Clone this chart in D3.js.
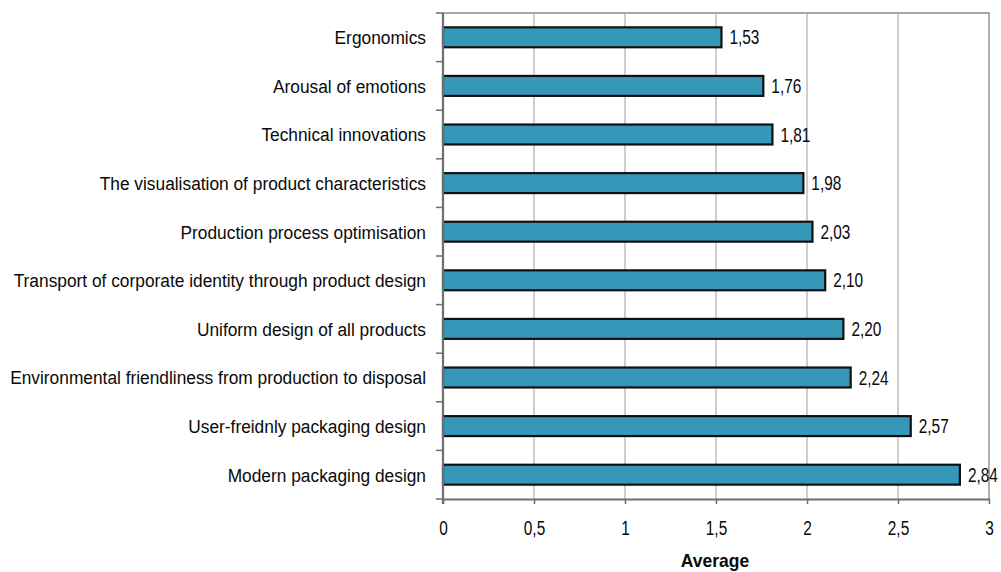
<!DOCTYPE html>
<html>
<head>
<meta charset="utf-8">
<script src="https://cdn.jsdelivr.net/npm/d3@7"></script>
<style>
  html, body { margin: 0; padding: 0; background: #fff; }
  svg { display: block; }
  text { font-family: "Liberation Sans", Arial, sans-serif; fill: #0a0a0a; }
</style>
</head>
<body>
<script>
// Importance of design aspects (average rating)
const categories = [
  "Ergonomics",
  "Arousal of emotions",
  "Technical innovations",
  "The visualisation of product characteristics",
  "Production process optimisation",
  "Transport of corporate identity through product design",
  "Uniform design of all products",
  "Environmental friendliness from production to disposal",
  "User-freidnly packaging design",
  "Modern packaging design"
];
const values = [1.53, 1.76, 1.81, 1.98, 2.03, 2.10, 2.20, 2.24, 2.57, 2.84];
const xTicks = [0, 0.5, 1, 1.5, 2, 2.5, 3];
const xTitle = "Average";

const W = 1001, H = 572;
const margin = { top: 13, right: 12, bottom: 73, left: 443 };
const plotW = W - margin.left - margin.right;
const plotH = H - margin.top - margin.bottom;

const fmt = v => d3.format(".2f")(v).replace(".", ",");
const tickFmt = v => String(v).replace(".", ",");

// condensed look: regular face squeezed horizontally
const catSize = 19, catSquash = 0.912;
const numSize = 19.5, numSquash = 0.79;

const svg = d3.select("body").append("svg").attr("width", W).attr("height", H);
const g = svg.append("g").attr("transform", `translate(${margin.left},${margin.top})`);

const x = d3.scaleLinear().domain([0, 3]).range([0, plotW]);
const y = d3.scaleBand().domain(categories).range([0, plotH]).paddingInner(0.59).paddingOuter(0.295);
const yEdges = d3.scaleLinear().domain([0, categories.length]).range([0, plotH]);

// vertical gridlines
g.append("g").selectAll("line").data(xTicks.slice(1, -1)).join("line")
  .attr("x1", d => x(d)).attr("x2", d => x(d))
  .attr("y1", 0).attr("y2", plotH)
  .attr("stroke", "#b4b4b4").attr("stroke-width", 1.3);

// plot frame (top and right)
g.append("path")
  .attr("d", `M0,0H${plotW}V${plotH}`)
  .attr("fill", "none").attr("stroke", "#a8a8a8").attr("stroke-width", 1.8);

// bars
g.append("g").selectAll("rect").data(values).join("rect")
  .attr("x", x(0))
  .attr("y", (d, i) => y(categories[i]))
  .attr("width", d => x(d) - x(0))
  .attr("height", y.bandwidth())
  .attr("fill", "#3598b9")
  .attr("stroke", "#111").attr("stroke-width", 2.2);

// value labels
g.append("g").selectAll("text").data(values).join("text")
  .attr("transform", (d, i) => `translate(${x(d) + 8},${y(categories[i]) + y.bandwidth() / 2}) scale(${numSquash},1)`)
  .attr("dy", "0.36em")
  .attr("font-size", numSize)
  .text(fmt);

// x axis
const xAxis = g.append("g").attr("transform", `translate(0,${plotH})`)
  .call(d3.axisBottom(x).tickValues(xTicks).tickFormat(tickFmt).tickSize(5).tickSizeOuter(0).tickPadding(17));
xAxis.select(".domain").attr("stroke", "#6e6e6e").attr("stroke-width", 1.8);
xAxis.selectAll(".tick line").attr("stroke", "#6e6e6e").attr("stroke-width", 1.5);
xAxis.selectAll(".tick text")
  .attr("font-size", numSize).attr("fill", "#0a0a0a")
  .attr("transform", `scale(${numSquash},1)`)
  .style("font-family", "'Liberation Sans', Arial, sans-serif");

// y axis line with category separator ticks
g.append("line").attr("x1", 0).attr("x2", 0).attr("y1", 0).attr("y2", plotH + 5)
  .attr("stroke", "#6e6e6e").attr("stroke-width", 2.2);
g.append("g").selectAll("line").data(d3.range(categories.length + 1)).join("line")
  .attr("x1", -7).attr("x2", 0)
  .attr("y1", d => yEdges(d)).attr("y2", d => yEdges(d))
  .attr("stroke", "#6e6e6e").attr("stroke-width", 1.5);

// category labels
g.append("g").selectAll("text").data(categories).join("text")
  .attr("transform", d => `translate(-17,${y(d) + y.bandwidth() / 2}) scale(${catSquash},1)`)
  .attr("dy", "0.36em")
  .attr("text-anchor", "end")
  .attr("font-size", catSize)
  .text(d => d);

// axis title
g.append("text")
  .attr("transform", `translate(${plotW / 2 - 1},${plotH + 68}) scale(0.94,1)`)
  .attr("text-anchor", "middle")
  .attr("font-size", 18.6)
  .attr("font-weight", "bold")
  .text(xTitle);
</script>
</body>
</html>
